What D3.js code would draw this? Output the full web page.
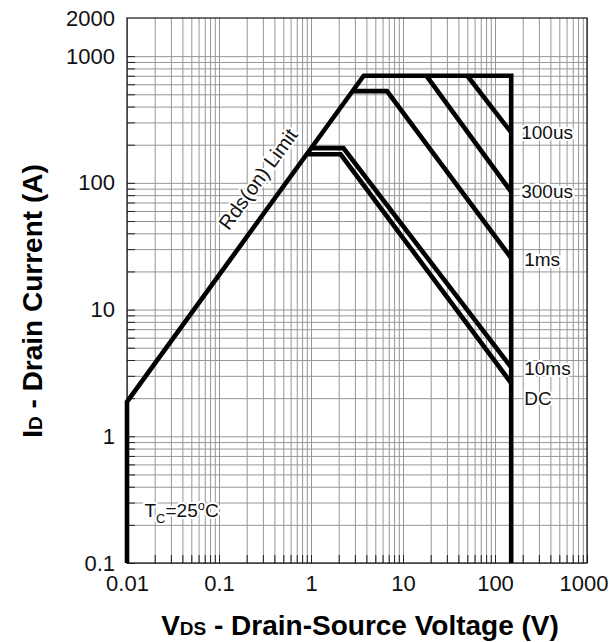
<!DOCTYPE html>
<html><head><meta charset="utf-8">
<script src="https://cdn.jsdelivr.net/npm/d3@7"></script>
<style>
body{margin:0;background:#fff}
svg{display:block;font-family:"Liberation Sans",Arial,Helvetica,sans-serif}
</style>
</head><body><svg id="c" width="610" height="642"></svg>
<script>
// ---- data ----
const xTickValues = [0.01, 0.1, 1, 10, 100, 1000];
const xTickLabels = ["0.01", "0.1", "1", "10", "100", "1000"];
const yTickValues = [0.1, 1, 10, 100, 1000, 2000];
const yTickLabels = ["0.1", "1", "10", "100", "1000", "2000"];

// SOA envelope (Rds(on) limit, current limit, voltage limit)
const envV = [0.01, 0.01, 3.74, 150, 150];
const envI = [0.1, 1.87, 700, 700, 0.1];
// pulse lines
const us100V = [50, 150];         const us100I = [700, 250];
const us300V = [18, 150];         const us300I = [700, 85];
const ms1V   = [2.83, 6.7, 150];  const ms1I   = [530, 530, 25.5];
const ms10V  = [1.0, 2.25, 150];  const ms10I  = [188, 188, 3.5];
const dcV    = [0.9, 2.1, 150];   const dcI    = [168, 168, 2.63];

const seriesNames = ["100us", "300us", "1ms", "10ms", "DC"];

// ---- layout ----
const svg = d3.select("#c");
const W = 610;
const L = 127, R = 587, T = 18, B = 563;
const x = d3.scaleLog().domain([0.01, 1000]).range([L, R]);
const y = d3.scaleLog().domain([0.1, 2000]).range([B, T]);

function minors(lo, hi) {
  const out = [];
  for (let d = lo; d < hi; d *= 10) for (let m = 1; m <= 9; m++) out.push(+(d * m).toPrecision(3));
  out.push(hi);
  return out;
}
const xGrid = minors(0.01, 1000);
const yGrid = minors(0.1, 1000);

// grid
svg.append("g").attr("transform", `translate(0,${B})`)
  .call(d3.axisBottom(x).tickValues(xGrid).tickSize(-(B - T)).tickFormat(""))
  .call(g => g.select(".domain").remove())
  .call(g => g.selectAll("line").attr("stroke", "#969696").attr("stroke-width", 1));
svg.append("g").attr("transform", `translate(${L},0)`)
  .call(d3.axisLeft(y).tickValues(yGrid).tickSize(-(R - L)).tickFormat(""))
  .call(g => g.select(".domain").remove())
  .call(g => g.selectAll("line").attr("stroke", "#969696").attr("stroke-width", 1));

// inner ticks
svg.append("g").attr("transform", `translate(0,${B})`)
  .call(d3.axisBottom(x).tickValues(xGrid).tickSize(-8).tickFormat(""))
  .call(g => g.select(".domain").remove())
  .call(g => g.selectAll("line").attr("stroke", "#222"));
svg.append("g").attr("transform", `translate(${L},0)`)
  .call(d3.axisLeft(y).tickValues(yGrid).tickSize(-8).tickFormat(""))
  .call(g => g.select(".domain").remove())
  .call(g => g.selectAll("line").attr("stroke", "#222"));

// frame
svg.append("rect").attr("x", L).attr("y", T).attr("width", R - L).attr("height", B - T)
  .attr("fill", "none").attr("stroke", "#111").attr("stroke-width", 1.2);

// tick labels
const xa = svg.append("g").attr("transform", `translate(0,${B})`)
  .call(d3.axisBottom(x).tickValues(xTickValues).tickSize(0).tickPadding(12)
    .tickFormat((d, i) => xTickLabels[i]));
xa.select(".domain").remove();
xa.selectAll("text").attr("font-size", 22).attr("fill", "#111").attr("font-family", null);
// keep the last label inside the page
xa.selectAll(".tick").filter(d => d === 1000).select("text")
  .attr("text-anchor", "end").attr("x", W - 2 - x(1000));

const ya = svg.append("g").attr("transform", `translate(${L},0)`)
  .call(d3.axisLeft(y).tickValues(yTickValues).tickSize(0).tickPadding(12)
    .tickFormat((d, i) => yTickLabels[i]));
ya.select(".domain").remove();
ya.selectAll("text").attr("font-size", 22).attr("fill", "#111").attr("font-family", null);

// curves
const line = d3.line().x(d => x(d[0])).y(d => y(d[1]));
const zipVI = (V, I) => V.map((v, i) => [v, I[i]]);
const curves = [zipVI(envV, envI), zipVI(us100V, us100I), zipVI(us300V, us300I),
  zipVI(ms1V, ms1I), zipVI(ms10V, ms10I), zipVI(dcV, dcI)];
svg.append("g").selectAll("path").data(curves).join("path")
  .attr("d", line).attr("fill", "none").attr("stroke", "#000")
  .attr("stroke-width", 4.6).attr("stroke-linejoin", "miter").attr("stroke-linecap", "butt");

// right labels
const ends = [[us100V, us100I], [us300V, us300I], [ms1V, ms1I], [ms10V, ms10I], [dcV, dcI]];
const labelDy = [0, 0, 1, 1, 15];
svg.append("g").selectAll("text").data(seriesNames).join("text")
  .attr("x", (d, i) => x(ends[i][0][ends[i][0].length - 1]) + (i >= 2 ? 13 : 10))
  .attr("y", (d, i) => y(ends[i][1][ends[i][1].length - 1]) + labelDy[i])
  .attr("dy", "0.35em").attr("font-size", 19).attr("fill", "#111")
  .attr("stroke", "#fff").attr("stroke-width", 4).attr("paint-order", "stroke")
  .text(d => d);

// Rds(on) Limit label
const ang = Math.atan2(y(1) - y(10), x(10) - x(1)) * 180 / Math.PI;
const fv = 0.44, fi = envI[1] * fv / envV[1];
const px = x(fv), py = y(fi);
const off = 25, rad = ang * Math.PI / 180;
const cx = px - off * Math.sin(rad), cy = py - off * Math.cos(rad);
svg.append("text").attr("transform", `translate(${cx},${cy}) rotate(${-ang})`)
  .attr("text-anchor", "middle").attr("dy", "0.35em").attr("font-size", 20).attr("fill", "#111")
  .attr("stroke", "#fff").attr("stroke-width", 4).attr("paint-order", "stroke")
  .text("Rds(on) Limit");

// Tc label
const tc = svg.append("text").attr("x", x(0.0155)).attr("y", y(0.26)).attr("dy", "0.35em")
  .attr("font-size", 19).attr("fill", "#111")
  .attr("stroke", "#fff").attr("stroke-width", 4).attr("paint-order", "stroke");
tc.append("tspan").text("T");
tc.append("tspan").attr("font-size", 13).attr("dy", 6).text("C");
tc.append("tspan").attr("dy", -6).text("=25");
tc.append("tspan").attr("font-size", 13).attr("dy", -7).text("o");
tc.append("tspan").attr("dy", 7).text("C");

// axis titles
const xt = svg.append("text").attr("x", 360).attr("y", 635).attr("text-anchor", "middle")
  .attr("font-size", 28).attr("font-weight", "bold").attr("fill", "#000");
xt.append("tspan").text("V");
xt.append("tspan").attr("font-size", 19).text("DS");
xt.append("tspan").text(" - Drain-Source Voltage (V)");

const yt = svg.append("text").attr("transform", "translate(42,301) rotate(-90)").attr("text-anchor", "middle")
  .attr("font-size", 28).attr("font-weight", "bold").attr("fill", "#000");
yt.append("tspan").text("I");
yt.append("tspan").attr("font-size", 19).text("D");
yt.append("tspan").text(" - Drain Current (A)");
</script>
</body></html>
